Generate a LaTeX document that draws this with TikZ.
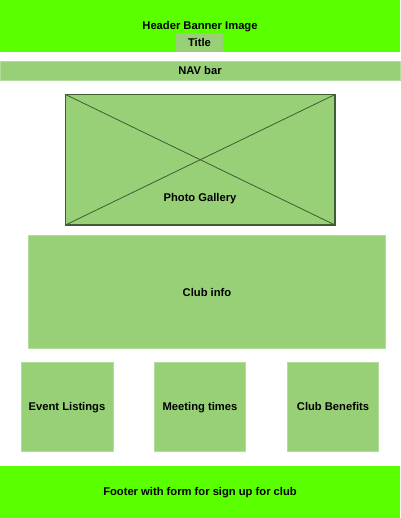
\documentclass[tikz,border=0pt]{standalone}
\usepackage{fontspec}
\setmainfont{Liberation Sans}
\definecolor{bright}{HTML}{5AFF00}
\definecolor{light}{HTML}{97D077}
\definecolor{lightedge}{HTML}{B3DD9C}
\definecolor{darkedge}{HTML}{405C35}
\begin{document}
\begin{tikzpicture}[x=1pt,y=-1pt,
  lbl/.style={font=\fontsize{11.2}{13}\selectfont\bfseries, text=black, inner sep=0pt, text height=8pt, text depth=2pt},
  brightbox/.style={fill=bright, draw=none},
  lightbox/.style={fill=light, draw=lightedge, line width=0.8pt},
]
\useasboundingbox (0,0) rectangle (400,518);
\fill[white] (0,0) rectangle (400,518);
% header
\path[brightbox] (0,0) rectangle (400,52);
\node[lbl] (header) at (200,27) {Header Banner Image};
\path[fill=light] (176,33) rectangle (223,52);
\node[lbl] (title) at (199.5,43.5) {Title};
% nav
\path[lightbox] (0,61) rectangle (400,80);
\node[lbl] (nav) at (200,71.5) {NAV bar};
% gallery
\path[fill=light] (65.5,94.5) rectangle (335,225);
\draw[darkedge, line width=0.8pt] (65.5,94.5) -- (335,225);
\draw[darkedge, line width=0.8pt] (65.5,225) -- (335,94.5);
\draw[darkedge, line width=1.5pt] (65.5,94.5) rectangle (335,225);
\node[lbl] (gallery) at (200,198.5) {Photo Gallery};
% club info
\path[lightbox] (28.5,235.5) rectangle (385.5,348);
\node[lbl] (info) at (207,293) {Club info};
% three boxes
\path[lightbox] (21.5,362.5) rectangle (113,451.5);
\node[lbl] (events) at (67,407.5) {Event Listings};
\path[lightbox] (154,362.5) rectangle (245.5,451.5);
\node[lbl] (meeting) at (200,407.5) {Meeting times};
\path[lightbox] (287,362.5) rectangle (378.5,451.5);
\node[lbl] (benefits) at (333,407.5) {Club Benefits};
% footer
\path[brightbox] (0,465.5) rectangle (400,518);
\node[lbl] (footer) at (200,492.5) {Footer with form for sign up for club};
\end{tikzpicture}
\end{document}
